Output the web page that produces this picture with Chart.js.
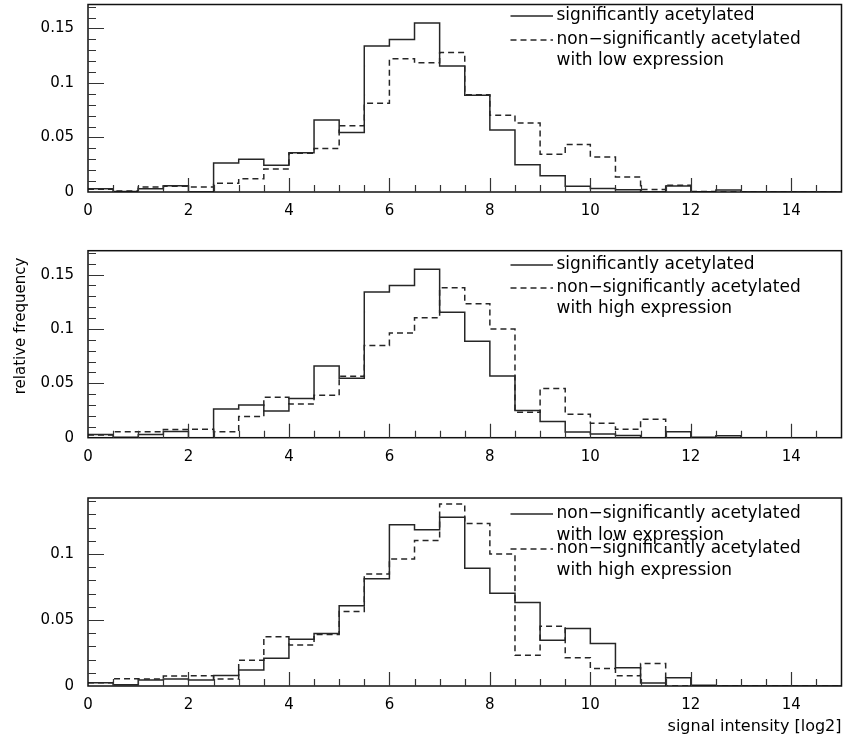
<!DOCTYPE html>
<html>
<head>
<meta charset="utf-8">
<title>Signal intensity histograms</title>
<script src="https://cdn.jsdelivr.net/npm/chart.js@4.4.1/dist/chart.umd.min.js"></script>
<style>
    body { margin: 0; background: #fff; }
    #wrap { position: relative; width: 844px; height: 745px; }
    canvas { position: absolute; left: 0; }
</style>
</head>
<body>
<div id="wrap">
    <canvas id="panelLow" width="844" height="226" style="top:0px"></canvas>
    <canvas id="panelHigh" width="844" height="226" style="top:246px"></canvas>
    <canvas id="panelBoth" width="844" height="252" style="top:493px"></canvas>
</div>
<script>
// histogram bins, width 0.5 on the log2 signal intensity axis
const binEdges = [0, 0.5, 1, 1.5, 2, 2.5, 3, 3.5, 4, 4.5, 5, 5.5, 6, 6.5, 7, 7.5,
    8, 8.5, 9, 9.5, 10, 10.5, 11, 11.5, 12, 12.5, 13, 13.5, 14, 14.5, 15];

// relative frequency per bin
const sigAcetylated = [0.003, 0.0005, 0.003, 0.0057, 0, 0.0265, 0.030, 0.0245, 0.036, 0.066,
    0.0546, 0.134, 0.140, 0.155, 0.1155, 0.0888, 0.0568, 0.025, 0.015, 0.0053,
    0.0033, 0.002, 0, 0.0055, 0.0003, 0.0019, 0, 0, 0, 0];
const lowExpression = [0.0025, 0.001, 0.0045, 0.0053, 0.0045, 0.008, 0.0122, 0.021, 0.0355, 0.0398,
    0.0608, 0.0813, 0.1222, 0.1185, 0.128, 0.0893, 0.0703, 0.0633, 0.0347, 0.0436,
    0.0322, 0.0138, 0.0022, 0.0062, 0.0005, 0, 0, 0, 0, 0];
const highExpression = [0.0025, 0.0055, 0.0054, 0.0075, 0.0078, 0.0054, 0.0195, 0.0373, 0.031, 0.039,
    0.0565, 0.0848, 0.0962, 0.1103, 0.1379, 0.1231, 0.1, 0.0233, 0.0452, 0.0215,
    0.0133, 0.0078, 0.017, 0, 0, 0, 0, 0, 0, 0];

const xTickValues = [0, 2, 4, 6, 8, 10, 12, 14];
const yTicksTall = [0, 0.05, 0.1, 0.15];
const yTicksShort = [0, 0.05, 0.1];

const labelSig = ['significantly acetylated'];
const labelLow = ['non\u2212significantly acetylated', 'with low expression'];
const labelHigh = ['non\u2212significantly acetylated', 'with high expression'];

Chart.defaults.font.family = '"DejaVu Sans", Verdana, sans-serif';
Chart.defaults.font.size = 15;
Chart.defaults.color = '#000';

const INK = '#262626';
const DASH = [6, 4];

function stepPoints(values) {
    // one point per bin edge, last edge repeats the last bin value
    return binEdges.map((x, i) => ({ x, y: values[Math.min(i, values.length - 1)] }));
}

function histDataset(values, dashed) {
    return {
        data: stepPoints(values),
        stepped: true,
        borderColor: INK,
        borderWidth: 1.5,
        borderDash: dashed ? DASH : [],
        pointRadius: 0,
        fill: false
    };
}

// frame, inward tick marks, legend and free text
const histFrame = {
    id: 'histFrame',
    afterDatasetsDraw(chart, args, opts) {
        const { ctx, chartArea: a, scales: { x, y } } = chart;
        ctx.save();
        ctx.strokeStyle = '#111';
        ctx.lineWidth = 1.5;
        ctx.strokeRect(a.left, a.top, a.right - a.left, a.bottom - a.top);

        ctx.lineWidth = 1.2;
        ctx.strokeStyle = '#333';
        ctx.beginPath();
        for (let v = 0.5; v < 15; v += 0.5) {
            const px = Math.round(x.getPixelForValue(v)) + 0.5;
            const len = (v % 2 === 0) ? 14 : 7;
            ctx.moveTo(px, a.bottom);
            ctx.lineTo(px, a.bottom - len);
        }
        for (let k = 1; k / 100 < y.max; k++) {
            const py = Math.round(y.getPixelForValue(k / 100)) + 0.5;
            const len = (k % 5 === 0) ? 16 : 8;
            ctx.moveTo(a.left, py);
            ctx.lineTo(a.left + len, py);
        }
        ctx.stroke();

        ctx.font = '17px "DejaVu Sans", Verdana, sans-serif';
        ctx.fillStyle = '#000';
        ctx.textBaseline = 'middle';
        (opts.items || []).forEach(item => {
            ctx.strokeStyle = INK;
            ctx.lineWidth = 1.3;
            ctx.setLineDash(item.dashed ? DASH : []);
            ctx.beginPath();
            ctx.moveTo(510.5, item.rows[0]);
            ctx.lineTo(553, item.rows[0]);
            ctx.stroke();
            ctx.setLineDash([]);
            item.text.forEach((t, i) => ctx.fillText(t, 556.5, item.rows[i]));
        });

        if (opts.yTitle) {
            ctx.font = '15px "DejaVu Sans", Verdana, sans-serif';
            ctx.textAlign = 'center';
            ctx.translate(opts.yTitle.x, opts.yTitle.y);
            ctx.rotate(-Math.PI / 2);
            ctx.fillText(opts.yTitle.text, 0, 0);
        }
        ctx.restore();
    }
};

function makePanel(canvasId, datasets, cfg) {
    const ctx = document.getElementById(canvasId).getContext('2d');
    return new Chart(ctx, {
        type: 'line',
        data: { datasets },
        plugins: [histFrame],
        options: {
            responsive: false,
            animation: false,
            devicePixelRatio: 1,
            layout: { padding: { top: cfg.padTop, right: 2.5, left: 0, bottom: 0 } },
            plugins: {
                legend: { display: false },
                tooltip: { enabled: false },
                histFrame: { items: cfg.legend, yTitle: cfg.yTitle }
            },
            scales: {
                x: {
                    type: 'linear',
                    min: 0,
                    max: 15,
                    grid: { display: false, drawTicks: false },
                    border: { display: false },
                    ticks: { padding: 10, maxRotation: 0 },
                    title: cfg.xTitle ? {
                        display: true,
                        text: cfg.xTitle,
                        align: 'end',
                        font: { size: 16 },
                        padding: { top: 0, bottom: 9 }
                    } : { display: false },
                    afterBuildTicks: s => { s.ticks = xTickValues.map(v => ({ value: v })); },
                    afterFit: s => { s.height = cfg.xHeight; s.paddingLeft = 0; s.paddingRight = 0; }
                },
                y: {
                    min: 0,
                    max: cfg.yMax,
                    grid: { display: false, drawTicks: false },
                    border: { display: false },
                    ticks: { padding: 14, callback: v => String(v) },
                    afterBuildTicks: s => { s.ticks = cfg.yTicks.map(v => ({ value: v })); },
                    afterFit: s => { s.width = 88; s.paddingTop = 0; s.paddingBottom = 0; }
                }
            }
        }
    });
}

makePanel('panelLow', [histDataset(sigAcetylated, false), histDataset(lowExpression, true)], {
    padTop: 4.5, xHeight: 34, yMax: 0.172, yTicks: yTicksTall,
    legend: [
        { text: labelSig, dashed: false, rows: [16] },
        { text: labelLow, dashed: true, rows: [40, 61] }
    ]
});

makePanel('panelHigh', [histDataset(sigAcetylated, false), histDataset(highExpression, true)], {
    padTop: 4.7, xHeight: 34.3, yMax: 0.172, yTicks: yTicksTall,
    legend: [
        { text: labelSig, dashed: false, rows: [19] },
        { text: labelHigh, dashed: true, rows: [42, 63] }
    ],
    yTitle: { text: 'relative frequency', x: 21.5, y: 80 }
});

makePanel('panelBoth', [histDataset(lowExpression, false), histDataset(highExpression, true)], {
    padTop: 5, xHeight: 59, yMax: 0.1425, yTicks: yTicksShort,
    legend: [
        { text: labelLow, dashed: false, rows: [21, 43] },
        { text: labelHigh, dashed: true, rows: [56, 78] }
    ],
    xTitle: 'signal intensity [log2]'
});
</script>
</body>
</html>
